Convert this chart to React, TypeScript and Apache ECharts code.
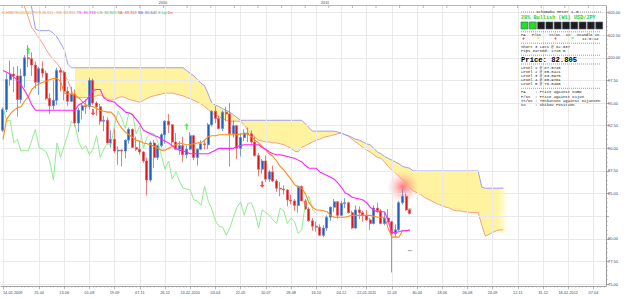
import React, { useEffect, useRef } from "react";
import * as echarts from "echarts";

// ---------- DATA (weekly USD/JPY) ----------
const opens = [92.0,94.3,97.6,98.2,98.0,95.4,98.0,100.0,99.9,99.2, 97.3,98.8,98.3,95.5,94.7,95.3,98.6,98.4,96.3,95.2, 96.0,92.8,94.2,94.7,94.6,97.5,95.0,94.6,93.0,93.1, 90.6,91.0,89.7,89.8,89.7,90.9,92.1,90.1,89.9,89.6, 88.6,86.5,90.6,89.0,90.3,91.5,93.0,92.6,90.7,89.9, 90.3,89.3,89.9,91.4,89.0,89.9,90.5,90.4,92.6,94.1, 93.3,92.2,94.0,93.8,91.6,92.5,90.0,91.2,91.7,91.6, 90.7,89.2,87.7,88.6,86.6,87.4,86.4,85.6,85.5,85.4, 84.3,84.2,83.7,85.8,84.2,83.3,82.0,81.4,81.3,80.4, 81.2,82.4,83.5,84.1,82.6,83.9,84.0,82.9,81.2,83.2, 82.9,82.6,82.1,81.7,83.4,83.1,81.7,82.3,81.9,80.6, 81.0,84.0,84.7,83.2];
const highs = [94.5,98.3,99.7,99.0,99.1,98.8,100.3,101.4,100.6,99.6, 99.0,99.6,98.6,96.1,97.5,98.9,98.9,98.6,96.8,96.8, 96.5,94.5,95.0,95.4,97.8,97.7,95.2,94.9,93.6,93.4, 92.0,92.2,90.2,89.9,91.0,92.3,92.2,91.3,90.8,89.7, 89.0,90.8,90.9,90.4,91.7,93.1,93.8,92.7,91.7,90.8, 91.3,90.3,91.8,91.5,90.0,90.9,90.9,92.8,94.2,94.7, 93.6,94.2,94.6,95.0,93.1,92.6,91.7,92.1,92.3,92.0, 91.3,89.5,88.8,89.2,87.6,88.1,86.6,86.3,85.9,85.5, 84.9,84.4,85.9,85.9,84.4,83.5,82.3,81.9,81.6,81.5, 82.6,83.6,84.4,84.2,84.2,84.5,84.1,83.1,83.7,83.6, 83.1,83.2,82.3,83.7,84.0,83.3,82.9,83.3,82.0,81.6, 84.2,85.5,85.0,83.3];
const lows = [91.8,94.0,96.9,96.2,93.5,95.0,96.7,99.0,98.0,96.6, 95.9,97.8,95.3,93.8,94.3,94.8,96.3,95.3,94.7,95.1, 92.4,91.8,93.2,93.8,94.3,94.8,93.6,92.6,91.9,90.5, 90.1,89.5,88.2,88.0,88.9,90.5,90.1,89.7,89.3,88.4, 84.8,86.3,87.8,88.7,90.1,90.5,91.7,90.3,89.9,89.3, 88.5,88.9,89.8,88.7,88.1,89.8,89.9,89.9,92.4,92.8, 92.1,91.9,93.0,88.0,91.2,88.8,89.1,90.8,90.7,90.5, 89.1,86.9,87.2,86.3,86.3,86.3,85.2,84.7,84.9,83.6, 83.8,83.1,82.9,84.2,83.2,81.9,80.9,80.8,80.4,80.2, 80.9,82.0,83.0,82.2,82.5,83.4,82.8,81.1,81.1,82.2, 81.9,82.0,81.0,81.6,82.9,81.6,81.5,81.8,76.3,80.2, 80.9,83.8,83.1,82.7];
const closes = [94.3,97.6,98.2,98.0,95.4,98.0,100.0,99.9,99.2,97.3, 98.8,98.3,95.5,94.7,95.3,98.6,98.4,96.3,95.2,96.0, 92.8,94.2,94.7,94.6,97.5,95.0,94.6,93.0,93.1,90.6, 91.0,89.7,89.8,89.7,90.9,92.1,90.1,89.9,89.6,88.6, 86.5,90.6,89.0,90.3,91.5,93.0,92.6,90.7,89.9,90.3, 89.3,89.9,91.4,89.0,89.9,90.5,90.4,92.6,94.1,93.3, 92.2,94.0,93.8,91.6,92.5,90.0,91.2,91.7,91.6,90.7, 89.2,87.7,88.6,86.6,87.4,86.4,85.6,85.5,85.4,84.3, 84.2,83.7,85.8,84.2,83.3,82.0,81.4,81.3,80.4,81.2, 82.4,83.5,84.1,82.6,83.9,84.0,82.9,81.2,83.2,82.9, 82.6,82.1,81.7,83.4,83.1,81.7,82.3,81.9,80.6,81.0, 84.0,84.7,83.2,82.8];

// Tenkan-sen (orange)
const tenkan = [91.0,93.2,93.8,94.2,94.5,94.6,95.2,95.7,96.5,96.9, 97.1,97.3,97.4,97.6,97.7,97.7,97.4,96.1,96.0,96.0, 95.9,95.6,95.2,94.8,94.7,94.6,94.4,94.2,94.1,94.0, 94.0,93.6,92.8,92.2,91.8,91.5,91.2,90.9,90.8,90.6, 90.5,90.4,90.2,90.0,89.8,89.8,90.0,90.2,90.4,90.6, 90.5,90.4,90.4,90.5,90.6,90.6,90.9,91.3,91.4,91.4, 91.5,91.5,91.5,91.5,91.5,91.5,91.6,91.6,91.6,91.3, 90.9,90.6,90.2,89.8,89.4,89.1,88.6,88.0,87.6,87.1, 86.6,86.0,85.7,85.6,85.0,84.0,83.5,83.2,83.2,83.1, 83.0,82.6,82.4,82.4,82.4,82.4,82.5,82.6,82.6,82.6, 82.6,82.6,82.6,82.5,82.4,82.4,82.4,81.2,80.2,80.2, 80.2,80.9,80.9,80.9];
// Kijun-sen (magenta)
const kijun = [98.6,98.4,98.2,97.9,97.5,97.0,96.4,95.7,94.8,94.2, 94.2,94.2,94.2,94.2,94.2,94.2,94.2,94.2,94.2,94.2, 94.2,94.8,95.0,95.3,95.7,96.4,96.5,96.5,95.6,95.3, 95.2,95.1,94.7,94.4,94.0,93.9,93.7,93.2,92.7,92.0, 91.8,91.6,91.4,91.3,91.0,90.8,90.6,90.3,90.0,89.8, 89.7,89.6,89.4,89.4,89.4,89.4,89.4,89.4,89.6,89.8, 90.0,90.0,90.0,90.0,90.0,90.2,90.3,90.4,90.4,90.4, 90.4,90.4,90.1,89.9,89.6,89.4,89.3,89.3,89.2,89.1, 89.0,88.9,88.7,88.5,88.1,87.8,87.8,87.8,87.4,87.2, 87.0,86.8,86.6,86.2,85.7,85.1,84.9,84.6,84.5,84.4, 84.3,84.0,83.5,83.2,83.0,83.0,83.0,82.0,80.7,80.7, 80.8,80.9,80.9,81.0];
// Chikou span (green), plotted 26 bars back
const chikou = [94.6,93.0,93.1,90.6,91.0,89.7,89.8,89.7,90.9,92.1, 90.1,89.9,89.6,88.6,86.5,90.6,89.0,90.3,91.5,93.0, 92.6,90.7,89.9,90.3,89.3,89.9,91.4,89.0,89.9,90.5, 90.4,92.6,94.1,93.3,92.2,94.0,93.8,91.6,92.5,90.0, 91.2,91.7,91.6,90.7,89.2,87.7,88.6,86.6,87.4,86.4, 85.6,85.5,85.4,84.3,84.2,83.7,85.8,84.2,83.3,82.0, 81.4,81.3,80.4,81.2,82.4,83.5,84.1,82.6,83.9,84.0, 82.9,81.2,83.2,82.9,82.6,82.1,81.7,83.4,83.1,81.7, 82.3,81.9,80.6,81.0,84.0,84.7,83.2,82.8];
// Senkou span A (salmon), 26 bars ahead
const senkouA = [null,null,null,null,null, 106.8,105.6,104.5,103.3,102.8, 102.2,101.6,100.9,100.3,99.8, 99.4,98.8,98.1,97.5,96.4, 95.6,95.6,95.6,95.6,95.6, 95.7,95.8,95.9,95.7,95.5, 95.3,95.4,95.6,95.7,95.6, 95.4,95.3,95.2,95.1,95.3, 95.5,95.7,95.8,95.9,96.0, 96.1,96.1,96.1,96.0,95.9, 95.8,95.6,95.5,95.3,95.1, 94.9,94.6,94.3,93.9,93.7, 93.5,93.3,93.1,93.0,93.0, 93.0,93.0,92.6,92.0,91.6, 91.2,90.9,90.8,90.7,90.7, 90.6,90.6,90.5,90.4,90.2, 90.0,89.7,89.6,90.1,90.3, 90.5,90.7,90.9,91.0,91.2, 91.3,91.4,91.5,91.6,91.7, 91.5,91.3,91.0,90.7,90.4, 90.1,89.8,89.6,89.3,89.0, 88.9,88.5,88.0,87.6,87.3, 86.9,86.5,86.0,85.6,85.3, 85.1,84.9,84.6,84.4,84.2, 84.0,83.8,83.7,83.5,83.4, 83.2,83.1,83.1,83.0,83.0, 82.9,82.9,82.9,81.5,80.3, 80.5,80.7,80.9,81.0,81.0];
// Senkou span B (lavender blue), 26 bars ahead
const senkouB = [null,null,null,null,null, null,null,107.0,105.5,103.2, 103.0,103.0,103.0,103.0,102.7, 102.3,101.6,100.9,99.3,98.9, 98.9,98.9,98.9,98.9,98.9, 98.9,98.9,98.9,98.9,98.9, 98.9,98.9,98.9,98.9,98.9, 98.9,98.9,98.9,98.9,98.9, 98.9,98.9,98.9,98.9,98.9, 98.9,98.9,98.9,98.9,98.9, 98.9,98.6,98.3,98.0,97.6, 97.2,96.9,96.0,95.0,94.8, 94.6,94.4,94.2,94.0,93.7, 93.4,93.1,93.1,93.1,93.1, 93.1,93.1,93.1,93.1,93.1, 93.1,93.1,93.1,93.1,93.1, 93.1,93.1,93.1,93.1,92.7, 92.3,91.9,91.9,91.9,91.9, 91.9,91.9,91.9,91.8,91.7, 91.5,91.4,91.2,91.0,90.9, 90.7,90.5,90.4,90.0,89.6, 89.4,89.1,88.9,88.7,88.5, 88.3,88.0,87.9,87.8,87.5, 87.5,87.5,87.5,87.5,87.5, 87.5,87.5,87.5,87.5,87.5, 87.5,87.5,87.5,87.5,87.5, 87.5,87.5,87.5,85.7,85.6, 85.6,85.6,85.6,85.6,85.6];
const CLOUD_FILL_START = 20;

// signal arrows
const upArrows = [[7, 100.8], [51, 92.4]];
const downArrows = [[25, 94.0], [72, 86.0]];
const levelMarks = [[113, 83.3], [113, 78.7]];
const lastPrice = 82.805;

// axes
const N_BARS = 168;
const xTickIndex = [0,10,17,24,31,38,45,52,59,66,73,80,87,94,101,108,115,122,129,136,143,150,157,164];
const xTickLabels = ["14-02-2009","25-04","13-06","01-08","19-09","07-11","26-12","13-02-2010","03-04","22-05","10-07","28-08","16-10","04-12","22-01-2011","12-03","30-04","18-06","06-08","24-09","12-11","31-12","18-02-2012","07-04"];
const yTicks = [75,77.5,80,82.5,85,87.5,90,92.5,95,97.5,100,102.5,105];
// 82.50 is hidden behind the last-price box in the reference
const yLabelTicks = [75,77.5,80,85,87.5,90,92.5,95,97.5,100,102.5,105];
const Y_MIN = 74.8;
const Y_MAX = 105.72;

// header & meter texts
const headerParts = [
  ["o", "ICHIMOKU(USDJPY,9,26,52) - KS: 82.915"],
  ["m", "TS: 80.918"],
  ["g", "CS: 82.805"],
  ["r", "SA: 88.918"],
  ["b", "SB: 85.641"],
  ["u", "S Up"],
  ["d", "Dn"],
];
const meterTitle = "Ichimoku Meter 1.3";
const meterBias = "28% Bullish (W1) USD/JPY";
const meterBoxes = [1, 1, 0, 0, 0, 0, 0, 0, 0, 0];
const meterHeads = [["PA", 521], ["P/KS", 532], ["TS/KS", 549], ["CS", 566], ["nCandle in", 577]];
const meterSigns = [["+", 522, "#ff1a1a"], ["=", 537, "#e8e800"], ["+", 554, "#ff1a1a"], ["=", 571, "#44dd44"], ["11:0:14", 582, "#111111"]];
const meterTrade = ["Short 3 Lots @ 82.637", "Pips earned: 1720.6"];
const meterPrice = "Price: 82.805";
const meterLevels = ["Level 1 @ 87.5746", "Level 2 @ 85.0421", "Level 3 @ 83.0976", "Level 4 @ 80.9761", "Level 5 @ 78.0486"];
const meterLegend = ["PA    : Price against Kumo", "P/KS  : Price against Kijun", "TS/KS : Tenkansen against Kijunsen", "CS    : Chikou Position"];

const MONO = '"Liberation Mono", "DejaVu Sans Mono", monospace';
const SANS = '"Liberation Sans", Arial, sans-serif';

function buildOption(): any {
  const cats = Array.from({ length: N_BARS }, (_, i) => String(i));
  const tickSet = new Set(xTickIndex);
  const labelMap: Record<number, string> = {};
  xTickIndex.forEach((idx, k) => (labelMap[idx] = xTickLabels[k]));

  const candles = opens.map((o, i) => [o, closes[i], lows[i], highs[i]]);
  const cloudBase = senkouA.map((a, i) => (i >= CLOUD_FILL_START && a != null && senkouB[i] != null ? a : null));
  const cloudDiff = senkouA.map((a, i) =>
    i >= CLOUD_FILL_START && a != null && senkouB[i] != null ? +((senkouB[i] as number) - a).toFixed(2) : null
  );
  const minorTicks: number[] = [];
  for (let v = 75; v <= 105.001; v += 0.5) minorTicks.push(+v.toFixed(1));

  const arrowPath = "path://M5,0 L10,5 L6.6,5 L6.6,12 L3.4,12 L3.4,5 L0,5 Z";

  // graphic elements
  const g: any[] = [];
  const txt = (text: string, x: number, y: number, o: any = {}) => ({
    type: "text", x, y, z: 100, silent: true,
    style: {
      text, fill: o.fill || "#151515", fontSize: o.size || 3.9, fontFamily: o.family || MONO,
      fontWeight: o.weight || "normal", verticalAlign: "middle", align: o.align || "left",
    },
  });
  const dash = (x1: number, x2: number, y: number) => ({
    type: "line", z: 100, silent: true,
    shape: { x1, y1: y, x2, y2: y },
    style: { stroke: "#5a5a5a", lineWidth: 0.6, lineDash: [1, 1] },
  });

  // top strip
  g.push({ type: "line", z: 50, silent: true, shape: { x1: 0, y1: 5.5, x2: 606, y2: 5.5 }, style: { stroke: "#b8b8b8", lineWidth: 1 } });
  for (let k = 0; k < 25; k++) {
    const x = 22 + 23.6 * k;
    g.push({ type: "line", z: 50, silent: true, shape: { x1: x, y1: 5.5, x2: x, y2: 8 }, style: { stroke: "#999", lineWidth: 0.7 } });
  }
  g.push(txt("2010", 163, 3, { family: SANS, size: 3.8, align: "center", fill: "#444" }));
  g.push(txt("2011", 325, 3, { family: SANS, size: 3.8, align: "center", fill: "#444" }));

  // header
  g.push({
    type: "text", x: 2, y: 12, z: 100, silent: true,
    style: {
      text: headerParts.map(([k, t]) => `{${k}|${t}}`).join(" "),
      fontSize: 3.9, fontFamily: SANS, verticalAlign: "middle",
      rich: {
        o: { fill: "#ff8c1a", fontSize: 3.9 }, m: { fill: "#ee22ee", fontSize: 3.9 }, g: { fill: "#33cc33", fontSize: 3.9 },
        r: { fill: "#ff4c4c", fontSize: 3.9 }, b: { fill: "#5050ff", fontSize: 3.9 }, u: { fill: "#55bb33", fontSize: 3.9 },
        d: { fill: "#ff3333", fontSize: 3.9 },
      },
    },
  });

  // pale highlight at the end of the projected cloud
  g.push({
    type: "rect", z: 2, silent: true, shape: { x: 496, y: 187, width: 12, height: 46, r: 3 },
    style: {
      fill: new echarts.graphic.LinearGradient(0, 0, 1, 0, [
        { offset: 0, color: "rgba(255,246,170,0)" },
        { offset: 0.5, color: "rgba(255,250,200,0.95)" },
        { offset: 1, color: "rgba(255,252,215,0.2)" },
      ]),
    },
  });

  // red glow near the last candles
  g.push({
    type: "circle", z: 3, silent: true, shape: { cx: 403, cy: 187, r: 16 },
    style: {
      fill: new echarts.graphic.RadialGradient(0.5, 0.5, 0.5, [
        { offset: 0, color: "rgba(255,70,70,0.75)" },
        { offset: 0.5, color: "rgba(255,110,110,0.35)" },
        { offset: 1, color: "rgba(255,150,150,0)" },
      ]),
    },
  });

  // meter
  g.push(dash(521, 534, 12));
  g.push(txt(meterTitle, 536, 12));
  g.push(dash(578, 601, 12));
  g.push(txt(meterBias, 521, 17.5, { fill: "#1fd01f", size: 5.2, weight: "bold" }));
  meterBoxes.forEach((on, k) => {
    g.push({
      type: "rect", z: 100, silent: true, shape: { x: 521 + 8.3 * k, y: 22, width: 7, height: 7 },
      style: { fill: on ? "#22e022" : "#1d1d1d", stroke: "#4d5d6d", lineWidth: 0.6 },
    });
  });
  g.push(dash(521, 601, 31.8));
  meterHeads.forEach(([t, x]) => g.push(txt(t as string, x as number, 34.6, { size: 3.7 })));
  meterSigns.forEach(([t, x, c]) => g.push(txt(t as string, x as number, 39.3, { size: t === "11:0:14" ? 3.9 : 5, fill: c as string, weight: (t as string).length === 1 ? "bold" : "normal" })));
  g.push(dash(521, 601, 43.2));
  meterTrade.forEach((t, k) => g.push(txt(t, 521, 47 + 4.3 * k)));
  g.push(dash(521, 601, 55.2));
  g.push(txt(meterPrice, 521, 59.6, { size: 7.2, weight: "bold", fill: "#000" }));
  g.push(dash(521, 601, 64));
  meterLevels.forEach((t, k) => g.push(txt(t, 521, 67.8 + 4.1 * k)));
  g.push(dash(521, 601, 88.3));
  meterLegend.forEach((t, k) => g.push(txt(t, 521, 92.2 + 4.3 * k)));

  const common = { animation: false, silent: true };

  return {
    animation: false,
    backgroundColor: "#ffffff",
    grid: { left: 0, right: 19, top: 6, bottom: 12, containLabel: false },
    xAxis: [
      {
        type: "category", data: cats, boundaryGap: true, position: "bottom",
        axisLine: { show: true, onZero: false, lineStyle: { color: "#a3a3a3", width: 1 } },
        axisTick: { show: true, interval: 0, length: 1.5, alignWithLabel: true, lineStyle: { color: "#a0a0a0", width: 0.6 } },
        axisLabel: {
          show: true, interval: (i: number) => tickSet.has(i),
          formatter: (_v: string, i: number) => labelMap[i] ?? "",
          fontSize: 3.8, color: "#3f4670", margin: 5, fontFamily: SANS, alignMinLabel: "left",
        },
        splitLine: { show: false },
      },
      {
        type: "category", data: cats, boundaryGap: true, position: "bottom",
        axisLine: { show: false, onZero: false },
        axisTick: { show: true, interval: (i: number) => tickSet.has(i), length: 3.2, alignWithLabel: true, lineStyle: { color: "#999", width: 0.7 } },
        axisLabel: { show: false },
        splitLine: { show: false },
      },
    ],
    yAxis: [
      {
        type: "value", position: "right", min: Y_MIN, max: Y_MAX,
        axisLine: { show: true, lineStyle: { color: "#9a9a9a", width: 1 } },
        axisTick: { show: true, customValues: yTicks, length: 3, lineStyle: { color: "#8c8c8c", width: 0.7 } },
        axisLabel: { show: true, customValues: yLabelTicks, formatter: (v: number) => v.toFixed(2), fontSize: 4, color: "#3b4270", margin: 2, fontFamily: SANS },
        splitLine: { show: false },
      },
      {
        type: "value", position: "right", min: Y_MIN, max: Y_MAX,
        axisLine: { show: false },
        axisTick: { show: true, customValues: minorTicks, length: 1.6, lineStyle: { color: "#9a9a9a", width: 0.6 } },
        axisLabel: { show: false },
        splitLine: { show: false },
      },
    ],
    graphic: { elements: g },
    series: [
      { ...common, name: "cloudBase", type: "line", stack: "cloud", data: cloudBase, symbol: "none", z: 1, lineStyle: { opacity: 0 } },
      { ...common, name: "cloud", type: "line", stack: "cloud", data: cloudDiff, symbol: "none", z: 1, lineStyle: { opacity: 0 }, areaStyle: { color: "#fff3a0", opacity: 1 } },
      {
        ...common, name: "grid", type: "line", data: [], symbol: "none", z: 2,
        markLine: {
          silent: true, symbol: ["none", "none"], animation: false, label: { show: false },
          lineStyle: { color: "#e9e9e9", width: 1, type: "solid" },
          data: [...yTicks.map((v) => ({ yAxis: v })), ...xTickIndex.map((i) => ({ xAxis: String(i) }))],
        },
      },
      { ...common, name: "Senkou A", type: "line", data: senkouA, symbol: "none", z: 3, lineStyle: { color: "#f59f8a", width: 1 } },
      { ...common, name: "Senkou B", type: "line", data: senkouB, symbol: "none", z: 3, lineStyle: { color: "#9d9df2", width: 1 } },
      {
        ...common, name: "USDJPY", type: "candlestick", data: candles, barWidth: 2.5, z: 5,
        itemStyle: { color: "#1f5fc4", color0: "#e01616", borderColor: "#5b87d2", borderColor0: "#ea5a5a", borderWidth: 0.8 },
        markLine: {
          silent: true, symbol: ["none", "none"], animation: false,
          lineStyle: { opacity: 0 },
          label: { show: true, position: "end", formatter: lastPrice.toFixed(3), backgroundColor: "#55c3ee", color: "#0a1a40", fontSize: 4, fontFamily: SANS, padding: [0.6, 1.2], distance: 1.5 },
          data: [{ yAxis: lastPrice }],
        },
      },
      { ...common, name: "Chikou", type: "line", data: chikou, symbol: "none", z: 6, lineStyle: { color: "#86e886", width: 0.9 } },
      { ...common, name: "Tenkan", type: "line", data: tenkan, symbol: "none", z: 6, lineStyle: { color: "#ff8a10", width: 1.1 } },
      { ...common, name: "Kijun", type: "line", data: kijun, symbol: "none", z: 6, lineStyle: { color: "#ff22ff", width: 1.1 } },
      { ...common, name: "Buy", type: "scatter", data: upArrows, symbol: arrowPath, symbolSize: [5, 6.5], z: 7, itemStyle: { color: "#22ee22" } },
      { ...common, name: "Sell", type: "scatter", data: downArrows, symbol: arrowPath, symbolRotate: 180, symbolSize: [5, 6.5], z: 7, itemStyle: { color: "#ee2222" } },
      { ...common, name: "Levels", type: "scatter", data: levelMarks, symbol: "rect", symbolSize: [4, 0.9], z: 7, itemStyle: { color: "#7a7a7a" } },
    ],
  };
}

export default function App() {
  const ref = useRef<HTMLDivElement>(null);
  useEffect(() => {
    if (!ref.current) return;
    const chart = echarts.init(ref.current, null, { renderer: "svg" });
    chart.setOption(buildOption());
    return () => chart.dispose();
  }, []);
  return (
    <div
      ref={ref}
      style={{ position: "fixed", left: 0, top: 0, width: 625, height: 298, background: "#ffffff" }}
    />
  );
}
